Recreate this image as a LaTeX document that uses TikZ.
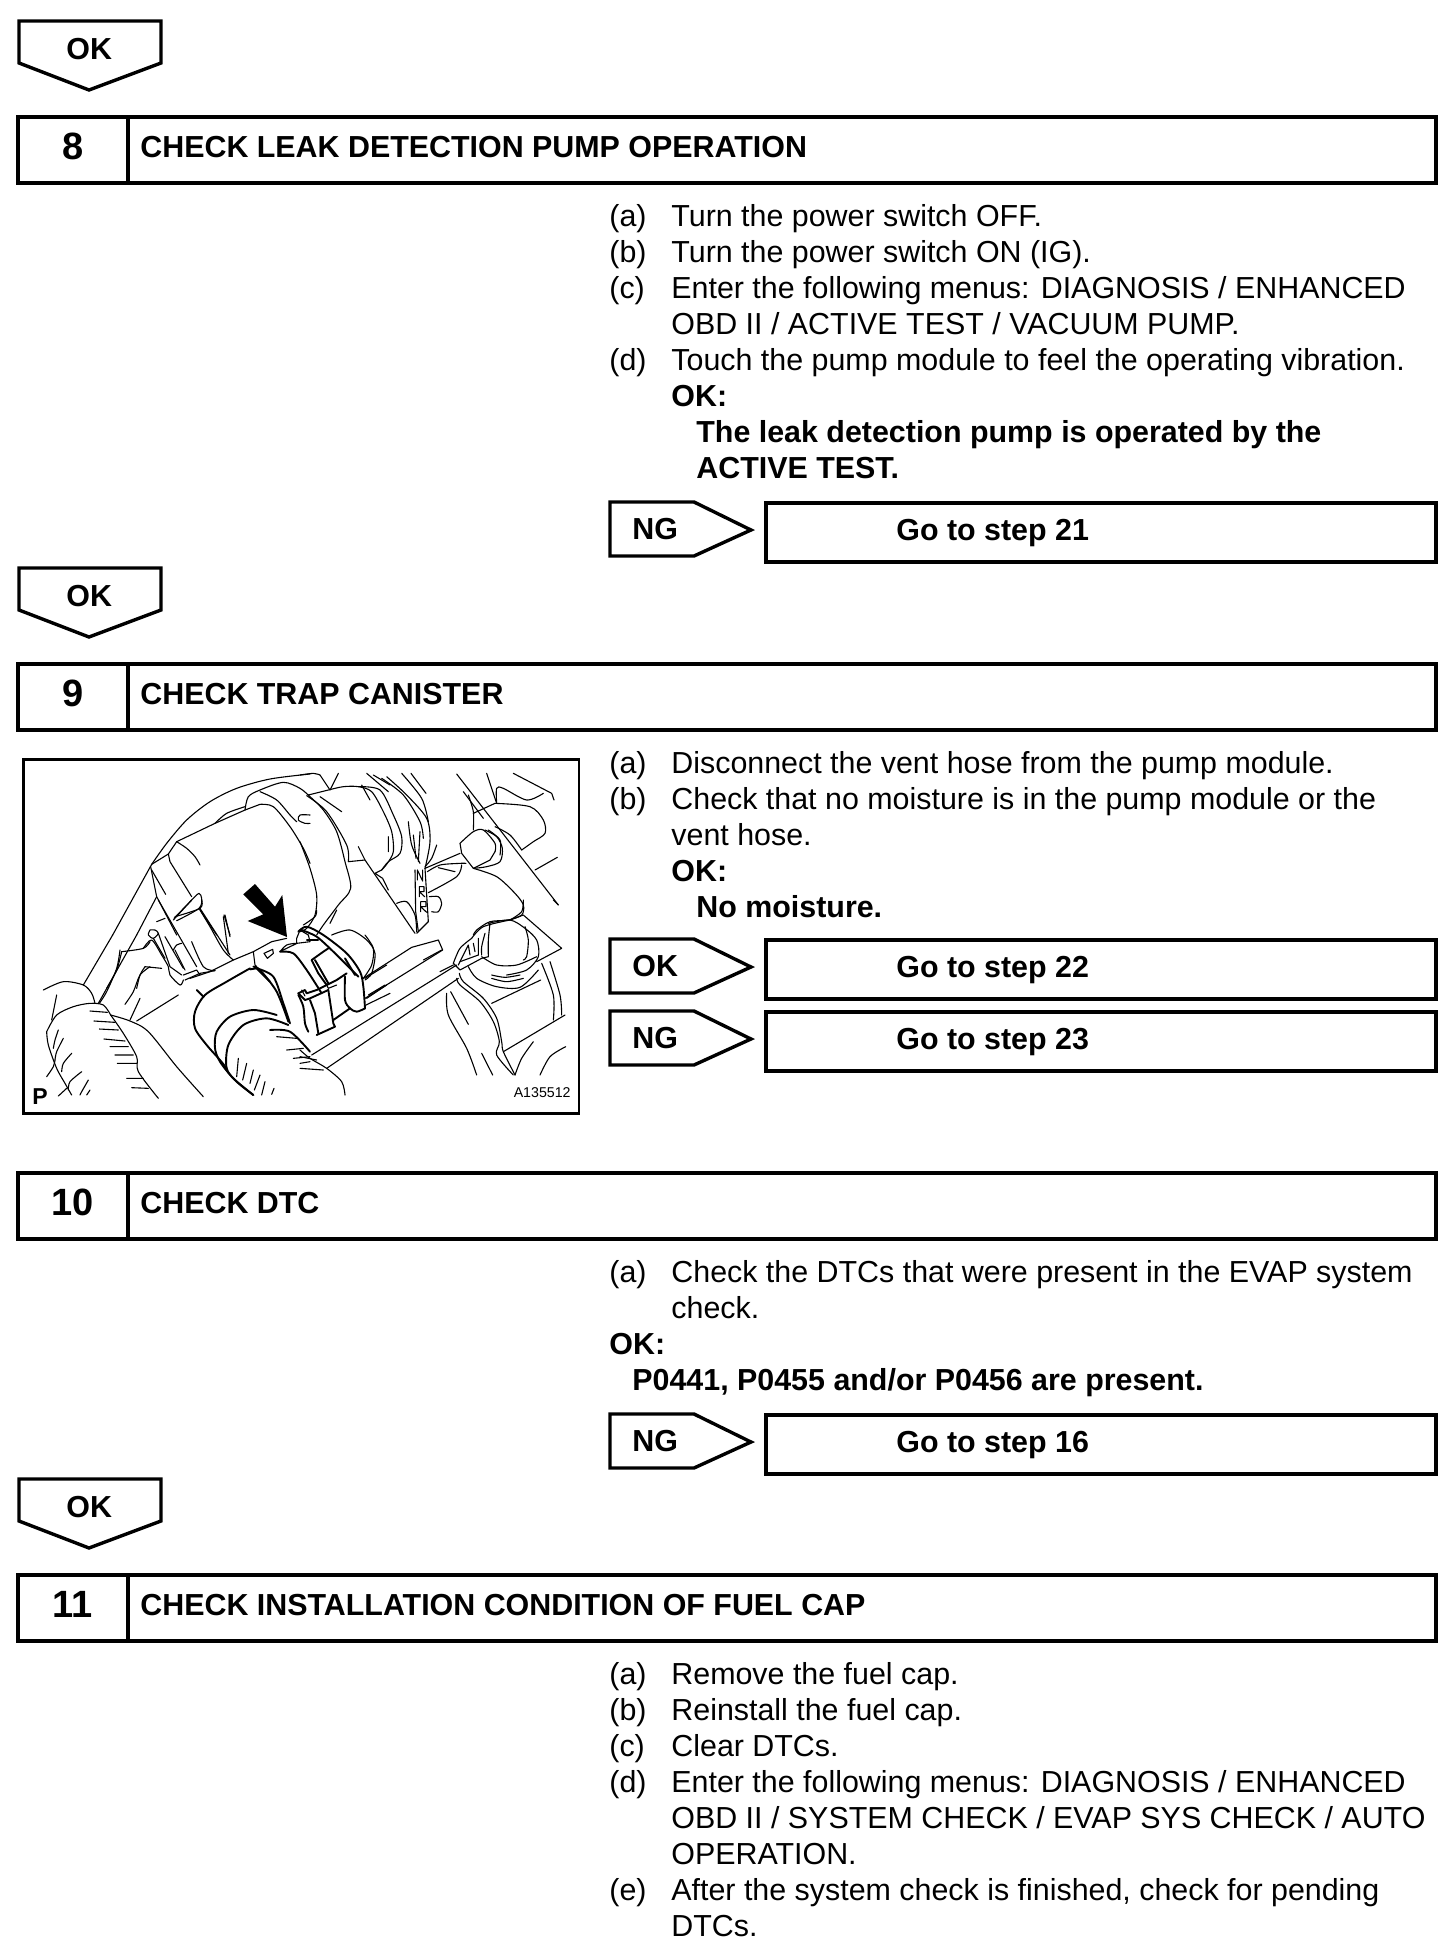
\documentclass[tikz,border=0pt]{standalone}
\usepackage{fontspec}
\setmainfont{Liberation Sans}
\tikzset{
  x=0.5pt,y=-0.5pt,
  body/.style={anchor=base west,inner sep=0pt,font=\fontsize{15.2}{18}\selectfont},
  strong/.style={anchor=base west,inner sep=0pt,font=\fontsize{15.2}{18}\selectfont\bfseries},
  numtext/.style={anchor=base,inner sep=0pt,font=\fontsize{19}{22}\selectfont\bfseries},
  heavy/.style={draw=black,line width=2pt,line join=miter},
  tag/.style={draw=black,line width=1.7pt,line join=miter},
  ill/.style={draw=black,line width=0.55pt,line cap=round,line join=round},
  thk/.style={line width=0.95pt},
  crop/.style={x=0.16667pt,y=-0.16667pt},
}
\newcommand{\HeadBar}[4]{%
  \path[heavy] (18,#2) rectangle (1436,#2+66);
  \path[heavy] (128,#2) -- (128,#2+66);
  \node[numtext] (#1num) at (73,#2+42) {#3};
  \node[strong] (#1title) at (140,#2+40) {#4};
}
\newcommand{\DownTag}[2]{%
  \path[tag] (19,#2) -- (161,#2) -- (161,#2+42) -- (89,#2+69) -- (19,#2+42) -- cycle;
  \node[strong] (#1) at (66,#2+38) {OK};
}
\newcommand{\SideTag}[4]{%
  \path[tag] (610,#2) -- (694,#2) -- (751,#2+28) -- (694,#2+54) -- (610,#2+54) -- cycle;
  \node[strong] (#1tag) at (632,#2+37) {#3};
  \path[tag] (766,#2+1) rectangle (1436,#2+60);
  \node[strong] (#1go) at (896,#2+38) {#4};
}
\newcommand{\TL}[4]{\node[body] (#1) at (#2,#3) {#4};}
\newcommand{\TB}[4]{\node[strong] (#1) at (#2,#3) {#4};}
\newcommand{\SM}[1]{\draw plot[smooth] coordinates {#1};}
\begin{document}
\begin{tikzpicture}
\useasboundingbox (0,0) rectangle (1456,1960);

\DownTag{oka}{21}
\HeadBar{hviii}{117}{8}{CHECK LEAK DETECTION PUMP OPERATION}
\TL{a1}{609}{226}{(a)}\TL{a1t}{671}{226}{Turn the power switch OFF.}
\TL{a2}{609}{262}{(b)}\TL{a2t}{671}{262}{Turn the power switch ON (IG).}
\TL{a3}{609}{298}{(c)}\TL{a3t}{671}{298}{Enter the following menus: DIAGNOSIS / ENHANCED}
\TL{a3u}{671}{334}{OBD II / ACTIVE TEST / VACUUM PUMP.}
\TL{a4}{609}{370}{(d)}\TL{a4t}{671}{370}{Touch the pump module to feel the operating vibration.}
\TB{a5}{671}{406}{OK:}
\TB{a6}{696}{442}{The leak detection pump is operated by the}
\TB{a7}{696}{478}{ACTIVE TEST.}
\SideTag{ngviii}{502}{NG}{Go to step 21}

\DownTag{okb}{568}
\HeadBar{hix}{664}{9}{CHECK TRAP CANISTER}
\TL{b1}{609}{773}{(a)}\TL{b1t}{671}{773}{Disconnect the vent hose from the pump module.}
\TL{b2}{609}{809}{(b)}\TL{b2t}{671}{809}{Check that no moisture is in the pump module or the}
\TL{b2u}{671}{845}{vent hose.}
\TB{b3}{671}{881}{OK:}
\TB{b4}{696}{917}{No moisture.}
\SideTag{okix}{939}{OK}{Go to step 22}
\SideTag{ngix}{1011}{NG}{Go to step 23}

% illustration
\path[draw=black,line width=1.4pt] (23.5,759.5) rectangle (579,1113.5);
\node[anchor=base west,inner sep=0pt,font=\fontsize{11.5}{14}\selectfont\bfseries] (pmark) at (32,1104) {P};
\node[anchor=base east,inner sep=0pt,font=\fontsize{7.1}{9}\selectfont] (pcode) at (571,1097) {A135512};
\begin{scope}[ill]
% crop A
\begin{scope}[shift={(20,755)},crop]
 \SM{(395,328)(440,265)(500,195)(570,140)(650,100)(750,72)(870,57)}
 \draw (395,328)--(278,540);
 \SM{(675,165)(685,125)(720,105)(790,82)(840,100)(870,125)}
 \SM{(585,205)(620,175)(675,155)}
 \draw (470,260)--(585,205)--(675,165)--(720,148);
 \SM{(720,148)(760,155)(810,215)(850,280)(870,325)}
 \SM{(720,110)(770,135)(810,180)(830,200)}
 \SM{(870,180)(840,180)(835,195)(855,205)(870,205)}
 \draw (395,328)--(445,297)--(470,260);
 \SM{(470,260)(500,280)(525,305)(540,330)}
 \draw (445,297)--(450,320)--(515,425);
 \draw (392,335)--(410,425)--(470,540);
 \draw (395,345)--(437,418);
 \draw (410,425)--(350,540);
 \SM{(462,490)(520,430)(537,415)(545,430)(537,460)(470,497)}
 \draw (537,460)--(590,540);
 \draw (612,480)--(630,540);
\end{scope}
% crop B
\begin{scope}[shift={(300,755)},crop]
 \SM{(0,60)(40,55)(60,60)}
 \draw (60,60)--(90,105)(115,55)--(90,105);
 \SM{(25,120)(85,105)(130,95)(175,95)(215,110)(250,170)(275,230)(280,290)(262,325)(245,345)}
 \SM{(0,260)(30,340)(50,420)(45,480)(20,520)(0,530)}
 \SM{(30,125)(70,165)(110,230)(135,320)(152,400)(115,450)(70,510)(50,540)}
 \SM{(60,125)(125,170)}
 \SM{(20,122)(80,170)(140,270)(145,320)}
 \draw (145,320)--(195,315)--(345,535);
 \draw (175,275)--(195,315);
 \SM{(185,90)(210,135)}
 \SM{(175,95)(240,105)(280,180)(305,245)(300,295)(265,320)(245,345)}
 \draw (200,55)--(265,110)(220,60)--(270,90);
 \SM{(245,70)(310,120)(360,200)(370,250)}
 \SM{(260,65)(320,120)(380,190)(390,260)(375,340)}
 \SM{(305,55)(365,130)(385,200)}
 \draw (333,55)--(378,115);
 \SM{(325,200)(335,270)(360,325)}
 \draw (265,245)--(265,290)(340,240)--(348,310)(360,230)--(355,320);
 \SM{(410,270)(395,310)(375,335)}
 \draw (352,375)--(352,345)--(368,378)--(368,345);
 \draw (358,425)--(358,395)--(372,395)--(372,410)--(358,410)--(374,425);
 \draw (362,470)--(362,440)--(378,440)--(378,455)--(362,455)--(380,472);
 \draw (375,340)--(385,500)--(350,535);
 \draw (345,345)--(347,470)--(355,530);
 \draw (375,340)--(480,295);
 \SM{(382,350)(420,330)(480,325)(498,325)}
 \draw (415,338)--(465,350);
 \SM{(385,413)(470,365)(485,330)}
 \SM{(388,425)(415,425)(425,445)(415,470)(395,470)}
 \SM{(290,445)(320,440)(345,480)(350,530)}
 \draw (245,345)--(225,355)--(248,370)--(265,405);
 \SM{(480,265)(520,230)(550,225)(585,265)(585,290)}
 \draw (480,265)--(485,295)--(520,340)--(570,315)--(585,290);
 \SM{(555,225)(590,245)(607,280)(600,320)(560,335)(520,340)}
 \SM{(565,225)(600,255)(600,300)}
 \SM{(520,340)(590,365)(645,415)(670,450)(665,480)(625,495)(570,500)(530,525)(520,540)}
 \draw (470,57)--(775,450);
 \SM{(505,120)(520,170)(520,225)}
 \draw (490,110)--(550,190);
 \SM{(560,55)(585,130)(590,145)}
 \draw (520,175)--(585,145);
 \SM{(585,145)(690,155)(730,195)(735,235)(700,260)(665,285)}
 \SM{(590,145)(590,100)(610,100)(680,135)(730,115)}
 \draw (640,55)--(755,115)--(762,135);
 \SM{(585,215)(630,240)(665,285)}
 \draw (705,345)--(772,307);
\end{scope}
% crop C
\begin{scope}[shift={(20,935)},crop]
 \draw (278,0)--(190,150)(350,0)--(235,205);
 \SM{(70,165)(130,140)(190,150)(215,175)(225,205)}
 \draw (110,180)--(95,255);
 \SM{(80,290)(110,240)(160,215)(210,205)(250,210)(272,240)}
 \SM{(80,290)(85,330)(110,400)(135,445)(155,480)}
 \SM{(272,240)(330,258)(385,290)(470,395)(550,485)}
 \SM{(272,240)(310,295)(350,365)(355,410)(415,490)}
 \draw (210,228)--(262,232)(222,258)--(285,262)(238,282)--(295,285)(252,312)--(315,318)(270,335)--(325,335)(285,360)--(340,360)(292,385)--(350,385)(320,430)--(370,430)(335,458)--(385,460);
 \SM{(115,285)(105,315)(100,340)}
 \SM{(130,310)(110,350)(105,375)}
 \SM{(155,355)(130,385)(125,410)}
 \SM{(185,410)(150,440)(145,465)}
 \SM{(205,435)(185,470)(180,480)}
 \draw (210,465)--(200,480);
 \SM{(105,375)(100,395)(80,425)}
 \draw (115,483)--(140,460);
 \SM{(300,45)(290,100)(260,170)(238,205)}
 \SM{(390,95)(360,120)(340,170)(315,208)}
 \draw (475,180)--(350,258);
 \draw (330,255)--(360,190);
 \begin{scope}[thk]
 \SM{(690,100)(620,140)(555,180)(525,230)(525,280)(560,330)(600,375)(620,400)}
 \draw (530,165)--(550,185);
 \SM{(700,95)(720,105)(770,170)(805,260)}
 \SM{(770,240)(700,225)(630,245)(590,290)(585,340)(600,380)(640,430)(700,480)}
 \SM{(805,270)(740,250)(670,270)(625,330)(620,400)(650,440)(700,480)}
 \SM{(750,285)(810,290)(870,350)}
 \end{scope}
 \draw (655,370)--(650,425)(680,385)--(668,435)(700,405)--(690,445)(720,420)--(703,465)(735,440)--(725,480)(762,460)--(755,478);
 \draw (770,305)--(830,310)(800,345)--(850,340)(820,370)--(870,365)(840,385)--(870,380);
\end{scope}
% crop D
\begin{scope}[shift={(300,935)},crop]
 \SM{(0,345)(30,370)(80,400)(125,440)(135,480)}
 \draw (0,365)--(50,375)(0,400)--(70,405);
 \draw (190,130)--(335,37)--(415,15)--(428,45)--(195,190);
 \draw (370,75)--(425,45)(205,180)--(255,150);
 \SM{(195,0)(220,40)(215,90)(190,130)}
 \draw (35,360)--(470,90)(80,400)--(475,130);
 \SM{(478,115)(490,140)(550,190)(590,250)(605,320)(610,350)(645,420)}
 \SM{(470,130)(480,150)(540,200)(580,260)(598,320)(590,360)(640,420)}
 \SM{(440,175)(445,240)(500,340)(530,420)}
 \draw (452,170)--(505,268)(545,355)--(578,420);
 \draw (610,350)--(795,240);
 \SM{(645,420)(665,370)(700,320)}
 \SM{(720,420)(750,365)(797,335)}
 \draw (575,205)--(722,135);
 \SM{(725,85)(760,180)(760,255)}
 \SM{(750,80)(780,180)(785,240)}
\end{scope}
% crop E: clamp
\begin{scope}[shift={(190,910)},crop]
 \draw (0,205)--(60,185)--(130,150)--(190,125)--(245,95)--(290,85);
 \draw (190,125)--(195,165)--(200,170);
 \draw (222,130)--(248,118)--(250,130)--(232,145)--cycle;
 \SM{(270,125)(290,105)(320,100)(300,110)(270,125)}
 \begin{scope}[thk]
 \SM{(325,65)(350,50)(400,75)(470,130)(510,185)(520,230)(525,295)}
 \SM{(335,60)(380,80)(430,125)(480,175)(505,200)}
 \SM{(270,125)(310,130)(350,180)(395,250)}
 \draw (465,145)--(495,195);
 \draw (365,150)--(385,190)--(410,225)--(440,210)--(470,190);
 \draw (365,150)--(400,125)--(415,115);
 \draw (375,150)--(415,220);
 \SM{(465,200)(465,270)(480,295)(500,305)(525,295)}
 \SM{(325,255)(340,290)(345,340)(355,365)}
 \draw (325,250)--(345,240)--(350,250)--(380,240)--(410,225);
 \draw (325,250)--(345,270)--(360,265)--(415,240);
 \draw (360,270)--(375,310)--(385,370);
 \draw (415,240)--(430,340)--(435,350)--(380,375);
 \draw (480,295)--(430,330);
 \SM{(200,175)(250,200)(280,280)(300,340)}
 \draw (180,178)--(200,175)--(240,215);
 \end{scope}
 \draw (320,85)--(330,60)--(355,75)--(360,95)--(320,100)--cycle;
 \draw (350,90)--(385,90);
 \draw (335,240)--(345,258);
 \draw (410,225)--(415,235)--(440,225);
 \draw (525,205)--(590,165)(530,265)--(590,225)(528,285)--(600,250);
 \SM{(425,75)(480,60)(530,90)(555,130)(545,190)(525,210)}
 \SM{(30,0)(60,50)(100,120)(130,150)}
 \draw (100,20)--(115,130);
 \SM{(380,0)(375,20)(340,45)}
 \draw (440,0)--(420,40);
\end{scope}
% crop F: connector
\begin{scope}[shift={(90,900)},crop]
 \draw (205,0)--(320,200);
 \draw (250,60)--(305,0);
 \SM{(255,50)(330,25)(335,0)}
 \draw (330,25)--(420,165);
 \draw (405,45)--(420,110);
 \SM{(305,125)(340,200)(375,212)}
 \SM{(95,155)(160,145)(180,125)}
 \SM{(95,155)(80,210)(50,265)}
 \SM{(180,90)(195,90)(205,100)(190,115)(175,105)(180,90)}
 \SM{(160,145)(185,120)(215,165)(235,200)(240,225)(270,255)(280,240)}
 \draw (190,115)--(225,175);
 \draw (205,100)--(240,200)--(275,225);
 \draw (200,65)--(225,55);
 \draw (225,110)--(280,205);
 \SM{(250,150)(260,135)(275,130)}
 \draw (255,150)--(285,210);
 \SM{(165,200)(150,225)(140,265)}
 \draw (165,200)--(215,205);
 \draw (285,240)--(330,220)--(375,212);
 \draw (280,225)--(320,210)--(330,225);
\end{scope}
% crop G: cap
\begin{scope}[shift={(440,900)},crop]
 \SM{(145,70)(210,60)(255,85)(290,120)(295,170)(260,210)(200,225)}
 \SM{(95,115)(130,80)(210,60)}
 \SM{(210,60)(245,35)(250,0)}
 \draw (210,60)--(250,45)--(365,145)--(290,185);
 \SM{(150,70)(145,120)(145,170)}
 \SM{(135,100)(125,140)(125,165)}
 \SM{(255,80)(265,120)(260,170)(250,180)}
 \SM{(125,170)(170,195)(230,195)(290,170)}
 \SM{(85,200)(110,235)(170,260)(240,262)(295,210)}
 \SM{(155,225)(195,232)(240,225)}
 \SM{(155,235)(200,245)(250,235)}
 \SM{(40,190)(60,145)(95,115)}
 \draw (55,195)--(85,135)--(90,165)(100,130)--(105,155)(115,115)--(115,165);
 \draw (40,190)--(60,210)--(125,175)--(145,170);
 \draw (60,185)--(115,165);
 \draw (0,215)--(40,195);
 \draw (340,0)--(355,15);
\end{scope}
\end{scope}
\fill[black] (243.3,894.3)--(255,884)--(275,906.7)--(282.3,895)--(287,937)--(247.7,921)--(263.3,914.3)--cycle;

\HeadBar{hx}{1173}{10}{CHECK DTC}
\TL{c1}{609}{1282}{(a)}\TL{c1t}{671}{1282}{Check the DTCs that were present in the EVAP system}
\TL{c1u}{671}{1318}{check.}
\TB{c2}{609}{1354}{OK:}
\TB{c3}{632}{1390}{P0441, P0455 and/or P0456 are present.}
\SideTag{ngx}{1414}{NG}{Go to step 16}

\DownTag{okc}{1479}
\HeadBar{hxi}{1575}{11}{CHECK INSTALLATION CONDITION OF FUEL CAP}
\TL{d1}{609}{1684}{(a)}\TL{d1t}{671}{1684}{Remove the fuel cap.}
\TL{d2}{609}{1720}{(b)}\TL{d2t}{671}{1720}{Reinstall the fuel cap.}
\TL{d3}{609}{1756}{(c)}\TL{d3t}{671}{1756}{Clear DTCs.}
\TL{d4}{609}{1792}{(d)}\TL{d4t}{671}{1792}{Enter the following menus: DIAGNOSIS / ENHANCED}
\TL{d4u}{671}{1828}{OBD II / SYSTEM CHECK / EVAP SYS CHECK / AUTO}
\TL{d4v}{671}{1864}{OPERATION.}
\TL{d5}{609}{1900}{(e)}\TL{d5t}{671}{1900}{After the system check is finished, check for pending}
\TL{d5u}{671}{1936}{DTCs.}
\end{tikzpicture}
\end{document}
